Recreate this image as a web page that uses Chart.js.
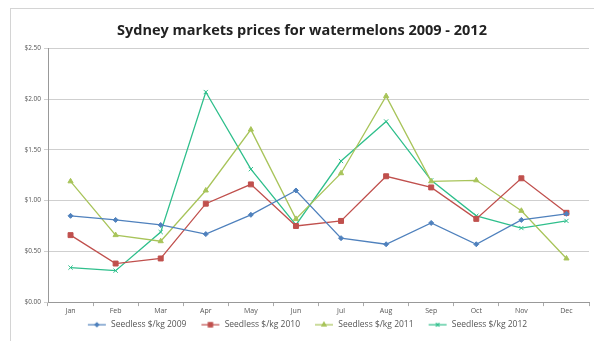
<!DOCTYPE html>
<html>
<head>
<meta charset="utf-8">
<script src="https://cdn.jsdelivr.net/npm/chart.js@4.4.0/dist/chart.umd.min.js"></script>
<style>
  html, body { margin: 0; padding: 0; background: #fff; }
  #wrap { position: relative; width: 594px; height: 341px; overflow: hidden; }
  #frame { position: absolute; left: 10px; top: 8px; width: 620px; height: 340px; border: 1px solid #d4d4d4; box-sizing: border-box; }
  #box { position: absolute; left: 0; top: 0; width: 594px; height: 341px; }
</style>
</head>
<body>
<div id="wrap">
  <div id="frame"></div>
  <div id="box"><canvas id="chart"></canvas></div>
</div>
<script>
// chart data
var months = ['Jan', 'Feb', 'Mar', 'Apr', 'May', 'Jun', 'Jul', 'Aug', 'Sep', 'Oct', 'Nov', 'Dec'];
var prices2009 = [0.85, 0.81, 0.76, 0.67, 0.86, 1.10, 0.63, 0.57, 0.78, 0.57, 0.81, 0.87];
var prices2010 = [0.66, 0.38, 0.43, 0.97, 1.16, 0.75, 0.80, 1.24, 1.13, 0.82, 1.22, 0.88];
var prices2011 = [1.19, 0.66, 0.60, 1.10, 1.70, 0.82, 1.27, 2.03, 1.19, 1.20, 0.90, 0.43];
var prices2012 = [0.34, 0.31, 0.69, 2.07, 1.31, 0.76, 1.39, 1.78, 1.20, 0.85, 0.73, 0.80];
var seriesNames = ['Seedless $/kg 2009', 'Seedless $/kg 2010', 'Seedless $/kg 2011', 'Seedless $/kg 2012'];
var yTicks = [0, 0.5, 1, 1.5, 2, 2.5];

var colors = ['#4f81bd', '#c0504d', '#a8c45a', '#2fbf8c'];
var markers = ['rectRot', 'rect', 'triangle', 'crossRot'];
var markerSize = [2.5, 3.5, 3, 3];

function makeSet(i, values) {
    return {
        label: seriesNames[i],
        data: values,
        borderColor: colors[i],
        backgroundColor: colors[i],
        borderWidth: 1.3,
        pointStyle: markers[i],
        pointRadius: markerSize[i],
        pointBorderWidth: 1,
        tension: 0
    };
}

// Excel style legend key: short line with the marker in the middle
function legendKey(i) {
    var c = document.createElement('canvas');
    c.width = 30;
    c.height = 8;
    var ctx = c.getContext('2d');
    ctx.strokeStyle = colors[i];
    ctx.fillStyle = colors[i];
    ctx.lineWidth = 1.2;
    ctx.beginPath();
    ctx.moveTo(11, 4);
    ctx.lineTo(29, 4);
    ctx.stroke();
    Chart.helpers.drawPoint(ctx, {
        pointStyle: markers[i],
        radius: markerSize[i] - 0.5,
        rotation: 0,
        borderWidth: 1
    }, 20, 4);
    return c;
}

new Chart(document.getElementById('chart'), {
    type: 'line',
    data: {
        labels: months,
        datasets: [
            makeSet(0, prices2009),
            makeSet(1, prices2010),
            makeSet(2, prices2011),
            makeSet(3, prices2012)
        ]
    },
    options: {
        responsive: true,
        maintainAspectRatio: false,
        animation: false,
        layout: { padding: { left: 10, right: 0, top: 22, bottom: 2 } },
        plugins: {
            title: {
                display: true,
                text: 'Sydney markets prices for watermelons 2009 - 2012',
                color: '#222',
                font: { family: 'Open Sans', size: 14.5, weight: 'bold' },
                padding: { top: 0, bottom: 9 }
            },
            legend: {
                position: 'bottom',
                labels: {
                    usePointStyle: true,
                    pointStyleWidth: 30,
                    boxHeight: 6,
                    color: '#555',
                    font: { family: 'Open Sans', size: 8.5 },
                    padding: 4,
                    generateLabels: function(chart) {
                        var items = Chart.defaults.plugins.legend.labels.generateLabels(chart);
                        items.forEach(function(item, i) {
                            item.pointStyle = legendKey(i);
                        });
                        return items;
                    }
                }
            },
            tooltip: { enabled: false }
        },
        scales: {
            x: {
                offset: true,
                grid: { display: true, drawOnChartArea: false, offset: true, tickLength: 4, color: '#aaa' },
                border: { color: '#999' },
                ticks: { color: '#555', font: { family: 'Open Sans', size: 7 }, padding: 1 }
            },
            y: {
                min: 0,
                max: 2.5,
                afterBuildTicks: function(scale) {
                    scale.ticks = yTicks.map(function(v) { return { value: v }; });
                },
                afterFit: function(scale) { scale.width = 38; },
                grid: { color: '#cfcfcf', tickLength: 4 },
                border: { color: '#999' },
                ticks: {
                    color: '#555',
                    font: { family: 'Open Sans', size: 6.5 },
                    callback: function(v) { return '$' + Number(v).toFixed(2); }
                }
            }
        }
    }
});
</script>
</body>
</html>
